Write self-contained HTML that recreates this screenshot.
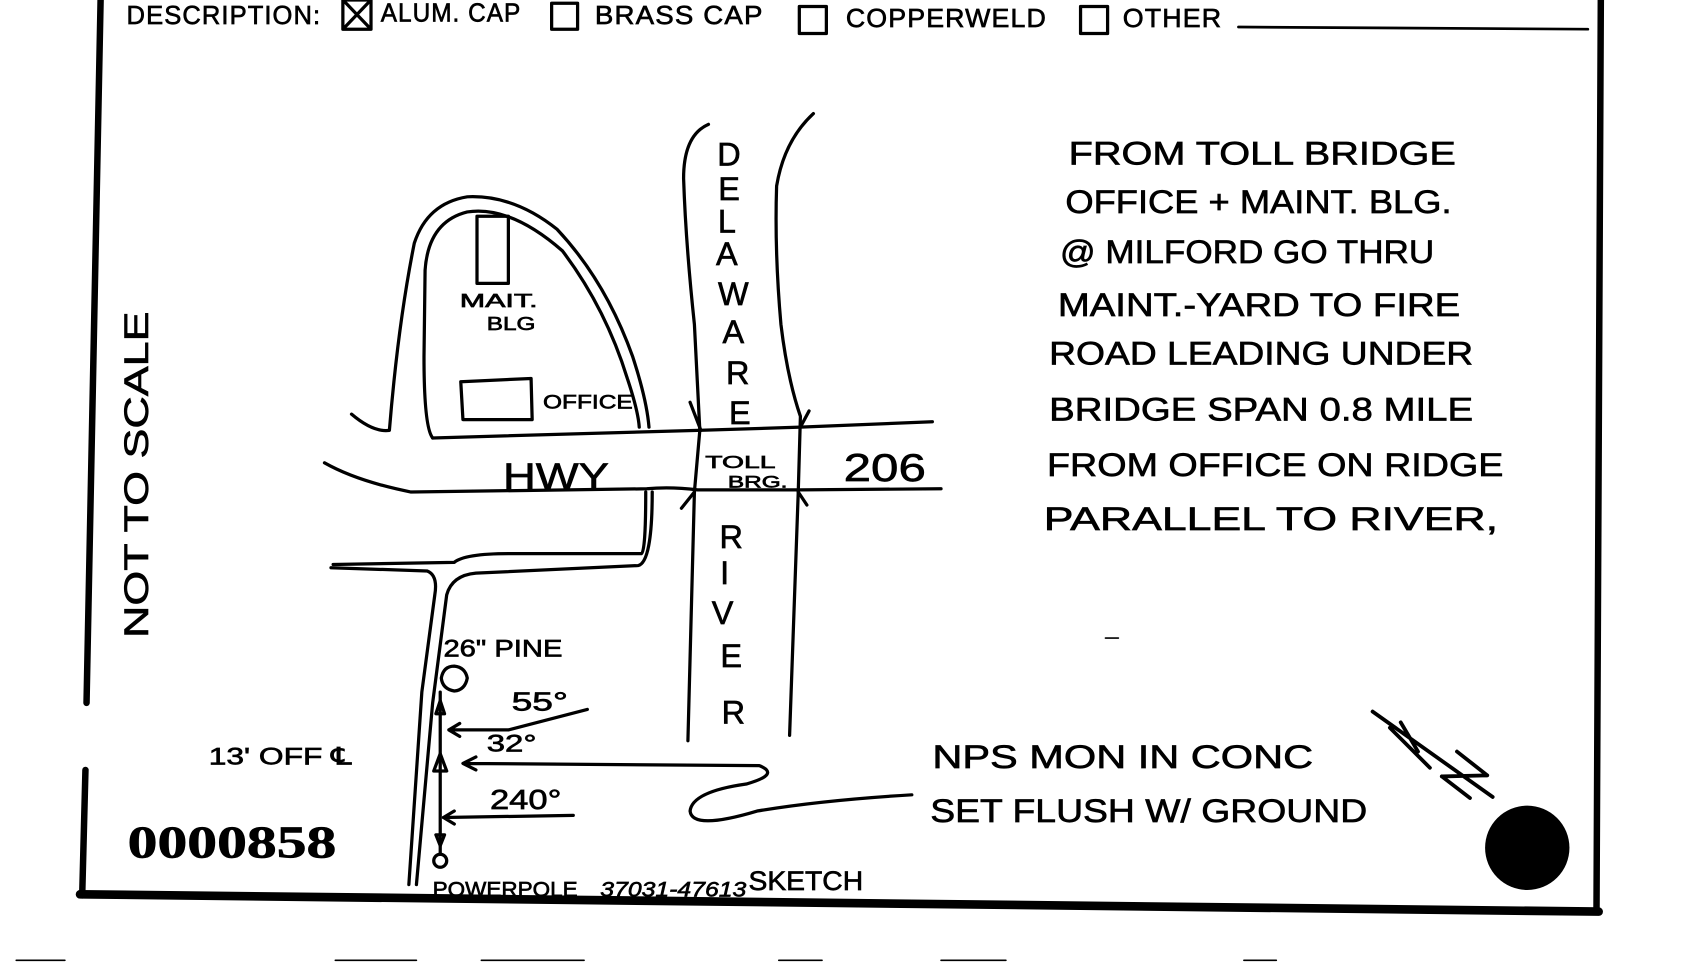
<!DOCTYPE html>
<html><head><meta charset="utf-8"><style>
html,body{margin:0;padding:0;background:#fff;width:1696px;height:970px;overflow:hidden}
svg{display:block}
text{font-family:"Liberation Sans",sans-serif;fill:#000;stroke:#000;stroke-width:0.6}
</style></head><body>
<svg width="1696" height="970" viewBox="0 0 1568 897" preserveAspectRatio="none">
<rect width="1568" height="897" fill="#fff"/>
<g stroke="#000" fill="none" stroke-linecap="round" stroke-linejoin="round">
<!-- border -->
<path d="M93,0 L80,650" stroke-width="6"/>
<path d="M79,712 L76,828" stroke-width="6"/>
<path d="M74,827 L1478,843" stroke-width="8"/>
<path d="M1480,0 L1476,843" stroke-width="6"/>
<!-- header boxes -->
<rect x="317" y="0" width="26" height="27" stroke-width="3"/>
<path d="M319,2 L341,25 M341,2 L319,25" stroke-width="3"/>
<rect x="510" y="3" width="24" height="24" stroke-width="3"/>
<rect x="739" y="6" width="25" height="25" stroke-width="3"/>
<rect x="999" y="6" width="25" height="25" stroke-width="3"/>
<path d="M1145,25 L1468,27" stroke-width="2.5"/>
<g stroke-width="3">
<path d="M325,383 Q345,400 360,398 Q368,300 383,225 Q395,188 432,182 Q475,180 515,212 Q560,260 585,330 Q598,370 600,395"/>
<path d="M400,405 Q392,395 392,330 L393,250 Q396,205 432,196 Q472,190 520,232 Q560,285 580,350 Q590,380 591,395"/>
<path d="M441,200 L470,200 L470,262 L441,262 Z"/>
<path d="M426,353 L491,350 L492,388 L428,388 Z"/>
<path d="M400,405 L645,398 L740,395 L862,390"/>
<path d="M300,428 Q330,445 380,455 L598,452 Q620,450 645,453 L740,453 L870,452"/>
<path d="M308,522 L420,520 Q430,512 470,512 L593,512 Q597,510 597,455"/>
<path d="M306,525 L395,528 Q405,532 402,550 L390,640 L378,818"/>
<path d="M385,818 L400,650 L413,550 Q418,532 440,530 L590,523 Q603,520 603,455"/>
<path d="M655,115 Q632,125 632,165 Q634,225 642,300 L647,398 L642,455 L636,685"/>
<path d="M752,105 Q725,130 718,172 Q716,232 722,300 Q728,350 740,385 L738,455 L730,680"/>
<path d="M638,372 L648,398 M748,380 L740,395 M630,470 L642,455 M746,467 L738,455"/>
<path d="M420,616 Q430,617 432,627 Q430,638 420,639 Q409,637 408,627 Q410,616 420,616 Z"/>
<path d="M407,640 L407,790"/>
<circle cx="407" cy="796" r="6"/>
<path d="M407,697 L413,713 L401,713 Z"/>
<path d="M543,656 L470,675 L415,675 M425,669 L415,675 L425,681"/>
<path d="M843,735 Q760,740 700,750 Q640,768 638,750 Q640,732 690,725 Q722,716 702,708 L430,706 M440,700 L428,706 L440,712"/>
<path d="M530,754 L410,756 M420,750 L410,756 L420,762"/>
<path d="M407,648 L403,660 L411,660 Z M407,782 L403,772 L411,772 Z"/>
</g>
<!-- north arrow -->
<g stroke-width="3.5">
<path d="M1269,658 L1380,737 M1295,668 L1311,695 M1285,673 L1322,710 M1347,695 L1375,717 M1333,718 L1375,717 M1333,718 L1359,738"/>
</g>
<path d="M1022,590 L1034,590 M15,888 L60,888 M310,888 L385,888 M445,888 L540,888 M720,888 L760,888 M870,888 L930,888 M1150,888 L1180,888" stroke-width="1.5"/>
</g>
<circle cx="1412" cy="784" r="39" fill="#000"/>
<g font-size="24" letter-spacing="1">
<text x="117" y="22" textLength="180" lengthAdjust="spacingAndGlyphs">DESCRIPTION:</text>
<text x="352" y="20" textLength="130" lengthAdjust="spacingAndGlyphs">ALUM. CAP</text>
<text x="550" y="22" textLength="156" lengthAdjust="spacingAndGlyphs">BRASS CAP</text>
<text x="782" y="25" textLength="186" lengthAdjust="spacingAndGlyphs">COPPERWELD</text>
<text x="1038" y="25" textLength="92" lengthAdjust="spacingAndGlyphs">OTHER</text>
</g>
<text transform="translate(137,590) rotate(-90)" font-size="32" textLength="302" lengthAdjust="spacingAndGlyphs">NOT TO SCALE</text>
<text x="425" y="284" font-size="17" textLength="72" lengthAdjust="spacingAndGlyphs">MAIT.</text>
<text x="450" y="305" font-size="17" textLength="45" lengthAdjust="spacingAndGlyphs">BLG</text>
<text x="502" y="378" font-size="18" textLength="83" lengthAdjust="spacingAndGlyphs">OFFICE</text>
<text x="465" y="452" font-size="34" textLength="98" lengthAdjust="spacingAndGlyphs">HWY</text>
<text x="652" y="433" font-size="16" textLength="65" lengthAdjust="spacingAndGlyphs">TOLL</text>
<text x="673" y="451" font-size="15" textLength="55" lengthAdjust="spacingAndGlyphs">BRG.</text>
<text x="780" y="445" font-size="36" textLength="76" lengthAdjust="spacingAndGlyphs">206</text>
<g font-size="30" text-anchor="middle">
<text x="674" y="153">D</text><text x="674" y="185">E</text><text x="672" y="215">L</text>
<text x="672" y="245">A</text><text x="678" y="282">W</text><text x="678" y="317">A</text>
<text x="682" y="355">R</text><text x="684" y="392">E</text>
<text x="676" y="507">R</text><text x="670" y="540">I</text><text x="668" y="577">V</text>
<text x="676" y="617">E</text><text x="678" y="669">R</text>
</g>
<g font-size="30">
<text x="988" y="152" textLength="358" lengthAdjust="spacingAndGlyphs">FROM   TOLL BRIDGE</text>
<text x="985" y="197" textLength="357" lengthAdjust="spacingAndGlyphs">OFFICE + MAINT. BLG.</text>
<text x="980" y="243" textLength="346" lengthAdjust="spacingAndGlyphs">@ MILFORD GO THRU</text>
<text x="978" y="292" textLength="372" lengthAdjust="spacingAndGlyphs">MAINT.-YARD TO FIRE</text>
<text x="970" y="337" textLength="392" lengthAdjust="spacingAndGlyphs">ROAD LEADING UNDER</text>
<text x="970" y="389" textLength="392" lengthAdjust="spacingAndGlyphs">BRIDGE SPAN 0.8 MILE</text>
<text x="968" y="440" textLength="422" lengthAdjust="spacingAndGlyphs">FROM OFFICE ON RIDGE</text>
<text x="965" y="490" textLength="420" lengthAdjust="spacingAndGlyphs">PARALLEL TO RIVER,</text>
<text x="862" y="710" textLength="352" lengthAdjust="spacingAndGlyphs">NPS MON IN CONC</text>
<text x="860" y="760" textLength="404" lengthAdjust="spacingAndGlyphs">SET FLUSH W/ GROUND</text>
</g>
<text x="410" y="607" font-size="22" textLength="110" lengthAdjust="spacingAndGlyphs">26" PINE</text>
<text x="473" y="657" font-size="24" textLength="52" lengthAdjust="spacingAndGlyphs">55°</text>
<text x="450" y="695" font-size="22" textLength="46" lengthAdjust="spacingAndGlyphs">32°</text>
<text x="453" y="748" font-size="26" textLength="66" lengthAdjust="spacingAndGlyphs">240°</text>
<text x="193" y="707" font-size="22" textLength="132" lengthAdjust="spacingAndGlyphs">13' OFF ℄</text>
<text x="118" y="793" font-size="42" font-weight="bold" style="font-family:'Liberation Serif',serif" textLength="193" lengthAdjust="spacingAndGlyphs">0000858</text>
<text x="400" y="829" font-size="20" textLength="134" lengthAdjust="spacingAndGlyphs">POWERPOLE</text>
<text x="555" y="829" font-size="20" font-style="italic" textLength="135" lengthAdjust="spacingAndGlyphs">37031-47613</text>
<text x="692" y="823" font-size="25" textLength="106" lengthAdjust="spacingAndGlyphs">SKETCH</text>
</svg>
</body></html>
